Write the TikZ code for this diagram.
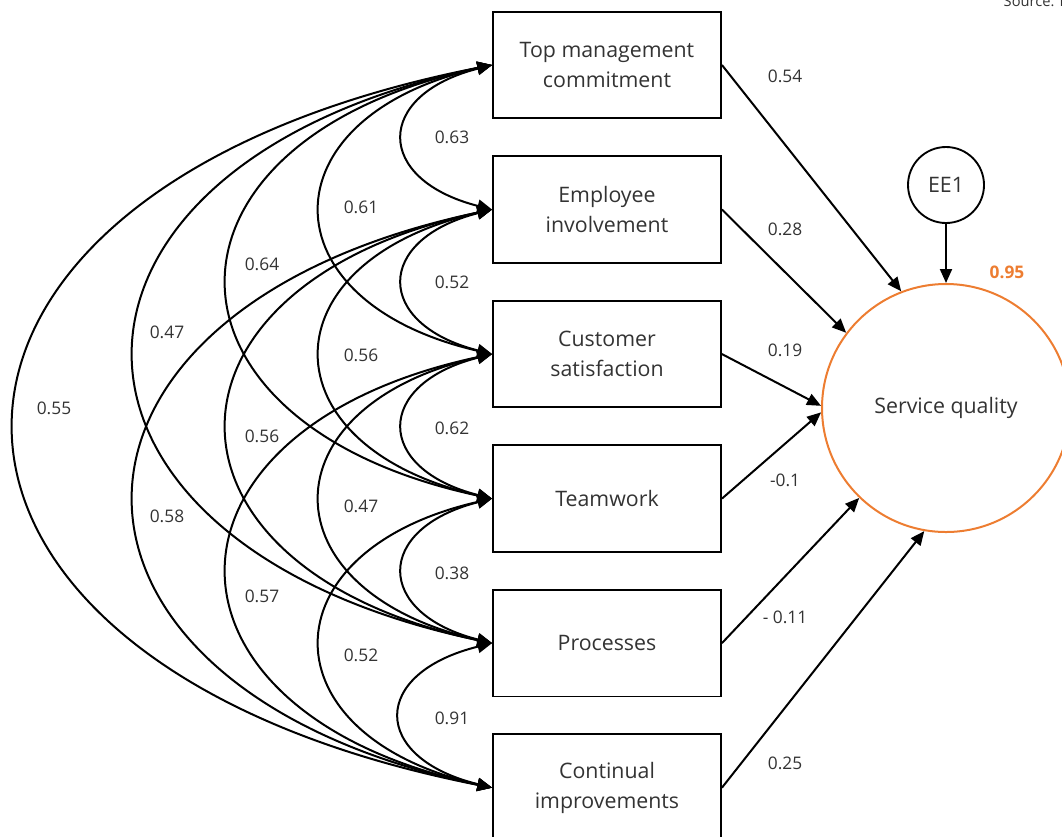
\documentclass[tikz,border=0pt]{standalone}
\usepackage{fontspec}
\setmainfont{Open Sans}
\usetikzlibrary{arrows.meta,positioning}
\definecolor{txtgray}{HTML}{333333}
\definecolor{sqorange}{HTML}{ED7D31}

\begin{document}
\begin{tikzpicture}[x=0.75pt,y=-0.75pt,
  dim/.style={draw,line width=1.4pt,minimum width=171pt,minimum height=80pt,
    align=center,text=txtgray,font=\fontsize{16}{22.5}\selectfont},
  latent/.style={circle,draw,line width=1.4pt,text=txtgray,
    font=\fontsize{16}{20}\selectfont},
  corr/.style={line width=1.5pt,
    {Triangle[length=11pt,width=9.5pt]}-{Triangle[length=11pt,width=9.5pt]}},
  effect/.style={line width=1.5pt,-{Triangle[length=10.5pt,width=9pt]}},
  coef/.style={text=txtgray,font=\fontsize{13}{15}\selectfont}]
\useasboundingbox (0,0) rectangle (1062,836);

% TQM dimensions
\node[dim] (tmc) at (607,65) {Top management\\commitment};
\node[dim,below=27pt of tmc] (ei) {Employee\\involvement};
\node[dim,below=27pt of ei] (cs) {Customer\\satisfaction};
\node[dim,below=27pt of cs] (tw) {Teamwork};
\node[dim,below=27pt of tw] (pr) {Processes};
\node[dim,below=27pt of pr] (ci) {Continual\\improvements};

% outcome and its error term
\node[latent,draw=sqorange,line width=1.5pt,minimum size=186pt] (sq) at (946,408) {Service quality};
\node[latent,minimum size=57pt] (ee1) at (946,185) {EE1};
\node[coef,text=sqorange,font=\fontsize{13}{15}\selectfont\bfseries] (rsq) at (1007,272) {0.95};
\node[coef,anchor=base west,font=\fontsize{11}{13}\selectfont] (src) at (999,6) {Source: F};

% correlations
\foreach \a/\b/\ox/\dy in {tmc/ei/118/30, ei/cs/118/30, cs/tw/118/30, tw/pr/118/30, pr/ci/122/30,
    tmc/cs/228/52, ei/tw/228/52, cs/pr/228/52, tw/ci/228/52,
    tmc/tw/352/75, ei/pr/352/75, cs/ci/352/75,
    tmc/pr/476/100, ei/ci/476/100,
    tmc/ci/636/125}
  \draw[corr] (\a.west) .. controls +(-\ox,\dy) and +(-\ox,-\dy) .. (\b.west);

\foreach \v/\x/\y [count=\i] in {0.63/452/137, 0.52/452/282, 0.62/452/428, 0.38/452/573, 0.91/452/718,
    0.61/361/207, 0.56/361/355, 0.47/361/506, 0.52/361/655,
    0.64/262/264, 0.56/262/436, 0.57/262/596,
    0.47/167/332, 0.58/167/516,
    0.55/54/408}
  \node[coef] (r\i) at (\x,\y) {\v};

% paths to service quality
\draw[effect] (tmc.east) -- (sq.111);
\draw[effect] (ei.east) -- (sq.143);
\draw[effect] (cs.east) -- (sq.179);
\draw[effect] (tw.east) -- (sq.182);
\draw[effect] (pr.east) -- (sq.226);
\draw[effect] (ci.east) -- (sq.260);
\draw[effect] (ee1) -- (sq);

\node[coef] (b1) at (785,76) {0.54};
\node[coef] (b2) at (785,229) {0.28};
\node[coef] (b3) at (785,350) {0.19};
\node[coef] (b4) at (785,480) {-0.1};
\node[coef] (b5) at (785,617) {- 0.11};
\node[coef] (b6) at (785,763) {0.25};
\end{tikzpicture}
\end{document}
